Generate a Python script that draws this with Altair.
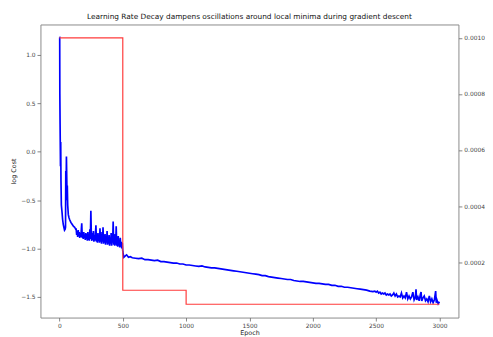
import altair as alt
import pandas as pd

# ---- blue series: log cost per epoch ----
cost_epoch_a = [0, 2, 3, 5, 7, 8, 10, 12, 15, 20, 25, 30, 35, 40, 45, 48, 50, 52, 55, 58,
                60, 62, 65, 70, 75, 80, 90, 100, 110, 120, 128]
cost_value_a = [1.18, 1.18, 0.6, 0.28, 0.0, -0.15, 0.1, -0.3, -0.55, -0.62, -0.7, -0.75, -0.78,
                -0.81, -0.8, -0.78, -0.2, -0.45, -0.05, -0.3, -0.5, -0.35, -0.55, -0.65, -0.68,
                -0.7, -0.73, -0.75, -0.77, -0.78, -0.8]

cost_epoch_b = [132, 136, 140, 144, 148, 152, 156, 160, 164, 168, 172, 176, 180, 184, 188, 192,
                196, 200, 204, 208, 212, 216, 220, 224, 228, 232, 236, 240, 244, 248, 252, 256,
                260, 264, 268, 272, 276, 280, 284, 288, 292, 296, 300, 304, 308, 312, 316, 320,
                324, 328, 332, 336, 340, 344, 348, 352, 356, 360, 364, 368, 372, 376, 380, 384,
                388, 392, 396, 400, 404, 408, 412, 416, 420, 424, 428, 432, 436, 440, 444, 448,
                452, 456, 460, 464, 468, 472, 476, 480, 484, 488, 492, 496, 500, 504, 508]
cost_value_b = [-0.80, -0.86, -0.82, -0.88, -0.81, -0.87, -0.83, -0.89, -0.84, -0.88, -0.82,
                -0.74, -0.89, -0.85, -0.90, -0.83, -0.89, -0.86, -0.91, -0.84, -0.90, -0.85,
                -0.92, -0.83, -0.91, -0.86, -0.92, -0.80, -0.90, -0.61, -0.88, -0.92, -0.84,
                -0.91, -0.82, -0.93, -0.86, -0.92, -0.85, -0.76, -0.93, -0.87, -0.94, -0.84,
                -0.92, -0.87, -0.94, -0.79, -0.93, -0.86, -0.95, -0.83, -0.93, -0.78, -0.95,
                -0.88, -0.94, -0.85, -0.96, -0.87, -0.94, -0.82, -0.96, -0.88, -0.95, -0.86,
                -0.97, -0.89, -0.95, -0.84, -0.97, -0.89, -0.94, -0.72, -0.96, -0.90, -0.97,
                -0.85, -0.96, -0.77, -0.97, -0.90, -0.98, -0.87, -0.97, -0.91, -0.99, -0.89,
                -0.98, -0.93, -1.00, -0.94, -1.03, -1.06, -1.09]

cost_epoch_c = [520, 530, 545, 560, 575, 600, 625, 650, 675, 700, 725, 750, 775, 800, 825, 850,
                875, 900, 925, 950, 975, 1000, 1025, 1050, 1075, 1100, 1125, 1150, 1175, 1200,
                1225, 1250, 1275, 1300, 1325, 1350, 1375, 1400, 1425, 1450, 1475, 1500, 1525,
                1550, 1575, 1600, 1625, 1650, 1675, 1700, 1725, 1750, 1775, 1800, 1825, 1850,
                1875, 1900, 1925, 1950, 1975, 2000, 2025, 2050, 2075, 2100, 2125, 2150, 2175,
                2200, 2225, 2250, 2275, 2300, 2325, 2350, 2375, 2400, 2425, 2450, 2475, 2490]
cost_value_c = [-1.075, -1.065, -1.09, -1.085, -1.095, -1.10, -1.105, -1.10, -1.115, -1.115,
                -1.12, -1.125, -1.12, -1.135, -1.135, -1.14, -1.145, -1.15, -1.15, -1.16, -1.16,
                -1.17, -1.17, -1.175, -1.18, -1.185, -1.18, -1.19, -1.195, -1.20, -1.20, -1.205,
                -1.21, -1.215, -1.22, -1.225, -1.23, -1.235, -1.24, -1.245, -1.25, -1.255, -1.26,
                -1.265, -1.27, -1.28, -1.28, -1.29, -1.295, -1.30, -1.305, -1.31, -1.315, -1.32,
                -1.32, -1.33, -1.335, -1.34, -1.34, -1.345, -1.35, -1.355, -1.36, -1.36, -1.365,
                -1.37, -1.37, -1.38, -1.38, -1.39, -1.39, -1.40, -1.40, -1.405, -1.41, -1.415,
                -1.42, -1.425, -1.43, -1.44, -1.445, -1.44]

cost_epoch_d = [2500, 2510, 2520, 2530, 2540, 2550, 2560, 2570, 2580, 2590, 2600, 2610, 2620,
                2630, 2640, 2650, 2660, 2670, 2680, 2690, 2700, 2710, 2720, 2730, 2740, 2750,
                2760, 2770, 2780, 2790, 2800, 2810, 2815, 2820, 2830, 2840, 2850, 2855, 2860,
                2870, 2880, 2890, 2900, 2910, 2920, 2930, 2940, 2950, 2960, 2970, 2975, 2980,
                2990, 3000]
cost_value_d = [-1.45, -1.44, -1.46, -1.45, -1.47, -1.46, -1.47, -1.46, -1.48, -1.47, -1.48,
                -1.47, -1.49, -1.48, -1.46, -1.49, -1.47, -1.50, -1.49, -1.50, -1.46, -1.51,
                -1.49, -1.51, -1.45, -1.52, -1.49, -1.52, -1.50, -1.45, -1.53, -1.50, -1.42,
                -1.53, -1.50, -1.54, -1.47, -1.45, -1.54, -1.51, -1.49, -1.54, -1.52, -1.55,
                -1.49, -1.55, -1.52, -1.56, -1.53, -1.44, -1.56, -1.53, -1.57, -1.55]

# ---- red series: learning rate schedule ----
lr_epoch = [0, 500, 500, 1000, 1000, 3000]
lr_value = [0.001, 0.001, 0.0001, 0.0001, 0.00005, 0.00005]

x_ticks = [0, 500, 1000, 1500, 2000, 2500, 3000]
left_ticks = [-1.5, -1.0, -0.5, 0.0, 0.5, 1.0]
right_ticks = [0.0002, 0.0004, 0.0006, 0.0008, 0.0010]

df_cost = pd.DataFrame({
    "Epoch": cost_epoch_a + cost_epoch_b + cost_epoch_c + cost_epoch_d,
    "log Cost": cost_value_a + cost_value_b + cost_value_c + cost_value_d,
})
df_cost["order"] = range(len(df_cost))
df_lr = pd.DataFrame({"Epoch": lr_epoch, "Learning Rate": lr_value, "order": range(len(lr_epoch))})

FONT = "DejaVu Sans"

x_enc = alt.X(
    "Epoch:Q",
    scale=alt.Scale(domain=[-150, 3150], nice=False, zero=False),
    axis=alt.Axis(values=x_ticks, format="d", title="Epoch", grid=False,
                  titlePadding=1, labelPadding=2, labelColor="#444", titleColor="#222"),
)

cost_line = alt.Chart(df_cost).mark_line(color="#0000ff", strokeWidth=1.7).encode(
    x=x_enc,
    y=alt.Y("log Cost:Q",
            scale=alt.Scale(domain=[-1.713, 1.314], nice=False, zero=False),
            axis=alt.Axis(values=left_ticks, format=".1f", title="log Cost", grid=False,
                          orient="left", labelPadding=2, titlePadding=4,
                          labelColor="#444", titleColor="#222")),
    order="order:Q",
)

lr_line = alt.Chart(df_lr).mark_line(color="#ff3b3b", strokeWidth=1.2).encode(
    x=x_enc,
    y=alt.Y("Learning Rate:Q",
            scale=alt.Scale(domain=[0.0000025, 0.0010475], nice=False, zero=False),
            axis=alt.Axis(values=right_ticks, format=".4f", title="Learning Rate", grid=False,
                          orient="right", labelPadding=2, titlePadding=8,
                          labelColor="#444", titleColor="#222")),
    order="order:Q",
)

chart = (
    alt.layer(cost_line, lr_line)
    .resolve_scale(y="independent")
    .properties(
        width=425,
        height=298,
        autosize=alt.AutoSizeParams(type="none"),
        padding={"left": 33, "top": 14, "right": 27, "bottom": 17},
        title=alt.TitleParams(
            "Learning Rate Decay dampens oscillations around local minima during gradient descent",
            fontSize=7.5, fontWeight="normal", font=FONT, color="#111", offset=4,
        ),
        background="white",
    )
    .configure_view(stroke="#8a8a8a", strokeWidth=1)
    .configure_axis(
        domain=False,
        labelFont=FONT, titleFont=FONT,
        labelFontSize=6, titleFontSize=6.5,
        titleFontWeight="normal",
        tickColor="#666", tickSize=3.5, tickWidth=0.8,
    )
)

chart.save("out.html", embed_options={"renderer": "svg", "actions": False})
